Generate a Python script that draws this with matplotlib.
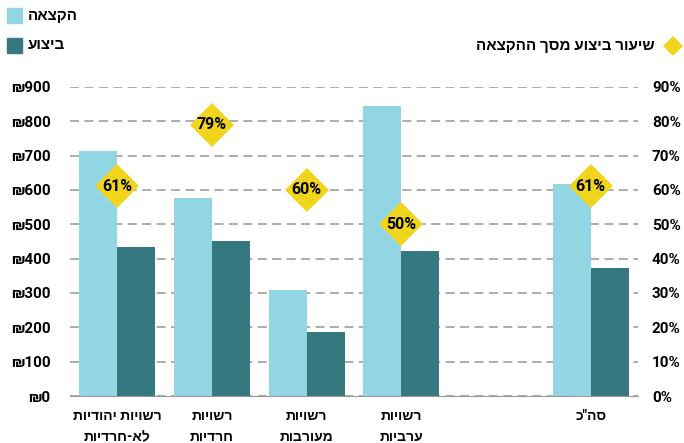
import matplotlib
matplotlib.use("Agg")
import matplotlib.pyplot as plt
from matplotlib.patches import Rectangle
from matplotlib.lines import Line2D
import numpy as np

plt.rcParams['font.family'] = ['Roboto', 'Liberation Sans', 'DejaVu Sans']
plt.rcParams['font.weight'] = 'bold'


def heb(s):
    # matplotlib has no bidi support, so hebrew goes in visual order
    return "\n".join(line[::-1] for line in s.split("\n"))


categories = ["רשויות יהודיות\nלא-חרדיות", "רשויות\nחרדיות", "רשויות\nמעורבות",
              "רשויות\nערביות", "", "סה\"כ"]
allocation = [712, 575, 310, 845, None, 617]
execution = [435, 452, 187, 422, None, 374]
rate = [61, 79, 60, 50, None, 61]
money_ticks = [0, 100, 200, 300, 400, 500, 600, 700, 800, 900]
pct_ticks = [0, 10, 20, 30, 40, 50, 60, 70, 80, 90]

light = "#93D6E3"
dark = "#357880"
yellow = "#F0D51C"

fig = plt.figure(figsize=(6.84, 4.43), dpi=100)
ax = fig.add_axes([70 / 684, 0.106, 568 / 684, 0.698])
ax2 = ax.twinx()

x = np.arange(len(categories))
w = 0.4
for i in range(len(categories)):
    if allocation[i] is None:
        continue
    ax.bar(x[i] - w / 2, allocation[i], w, color=light, zorder=3)
    ax.bar(x[i] + w / 2, execution[i], w, color=dark, zorder=3)

ax.set_xlim(-0.5, len(categories) - 0.5)
ax.set_ylim(0, 900)
ax.set_yticks(money_ticks)
ax.set_yticklabels(["₪" + str(v) for v in money_ticks])
ax.set_xticks(x)
ax.set_xticklabels([heb(c) for c in categories], fontsize=10, linespacing=1.7)
ax.tick_params(axis='x', length=0, pad=9)
ax.tick_params(axis='y', length=0, pad=14, labelsize=11)
ax.yaxis.grid(True, color="#A6A6A6", linestyle=(0, (5, 3)), linewidth=1.3, zorder=0)
ax.set_axisbelow(True)
for s in ["top", "left", "right"]:
    ax.spines[s].set_visible(False)
ax.spines["bottom"].set_color("#999999")

ax2.set_ylim(0, 90)
ax2.set_yticks(pct_ticks)
ax2.set_yticklabels([str(v) + "%" for v in pct_ticks])
ax2.tick_params(axis='y', length=0, pad=10, labelsize=11)
for s in ["top", "left", "right", "bottom"]:
    ax2.spines[s].set_visible(False)

for i in range(len(categories)):
    if rate[i] is None:
        continue
    ax2.plot(x[i], rate[i], marker="D", markersize=22, color=yellow,
             markeredgewidth=0, zorder=5)
    ax2.text(x[i], rate[i], str(rate[i]) + "%", ha="center", va="center",
             fontsize=11.5, color="black", zorder=6)

# legend, drawn by hand to match placement
fig.add_artist(Rectangle((7 / 684, 1 - 23 / 443), 15 / 684, 15 / 443,
                         transform=fig.transFigure, color=light))
fig.text(28 / 684, 1 - 16 / 443, heb("הקצאה"), fontsize=11, va="center")
fig.add_artist(Rectangle((7 / 684, 1 - 53 / 443), 15 / 684, 15 / 443,
                         transform=fig.transFigure, color=dark))
fig.text(28 / 684, 1 - 45 / 443, heb("ביצוע"), fontsize=11, va="center")
fig.add_artist(Line2D([673 / 684], [1 - 46 / 443], marker="D", markersize=10,
                      color=yellow, markeredgewidth=0, transform=fig.transFigure))
fig.text(655 / 684, 1 - 46 / 443, heb("שיעור ביצוע מסך ההקצאה"), fontsize=11,
         va="center", ha="right")

fig.savefig("out.png", dpi=100)
